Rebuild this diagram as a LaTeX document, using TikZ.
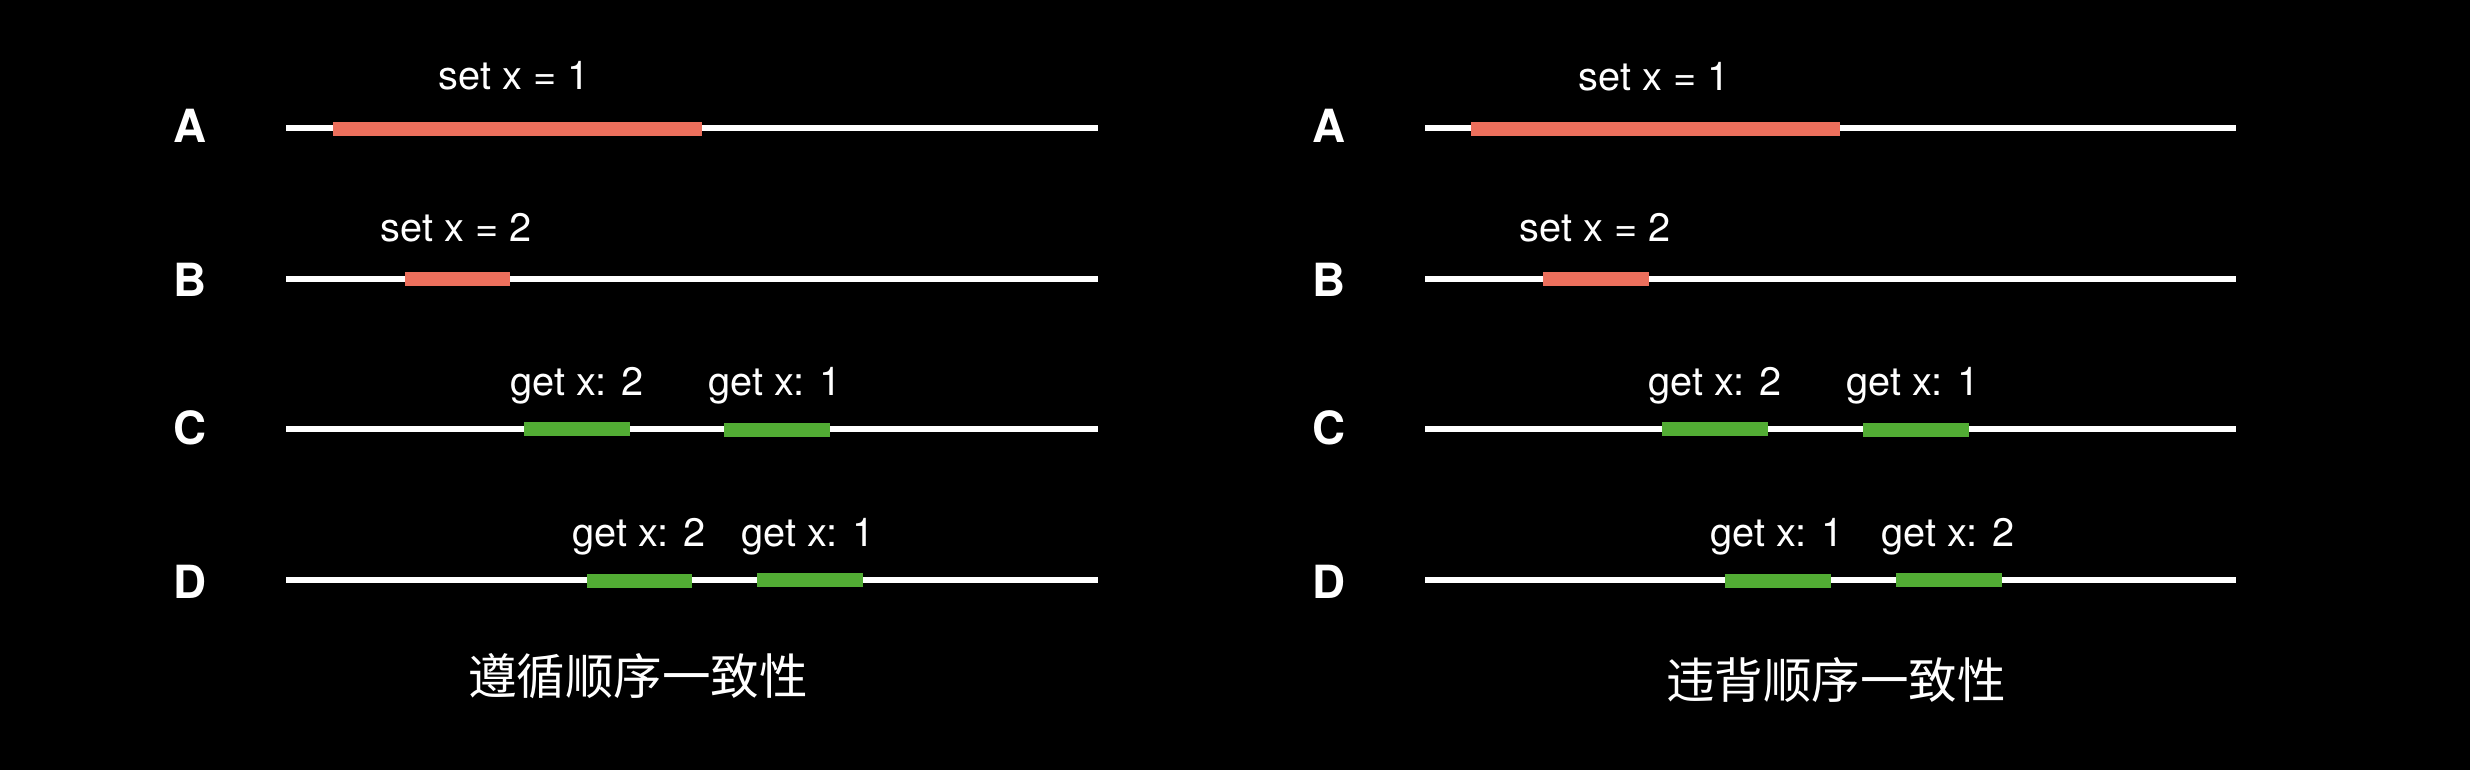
\documentclass[tikz,border=0pt]{standalone}
\usepackage{fontspec}
\setmainfont{TeX Gyre Heros}
\newfontfamily\cjk{Noto Sans CJK SC}
\definecolor{barred}{RGB}{236,111,92}
\definecolor{bargreen}{RGB}{82,172,52}
\begin{document}
\begin{tikzpicture}[x=0.01cm,y=-0.01cm,
  lane/.style={draw=white,line width=1.45pt},
  redbar/.style={fill=barred},
  greenbar/.style={fill=bargreen},
  rowlab/.style={text=white,inner sep=0pt,anchor=center,font=\fontsize{13}{15}\selectfont\bfseries},
  oplab/.style={text=white,inner sep=0pt,anchor=base,font=\fontsize{11.3}{13}\selectfont},
  caption/.style={text=white,inner sep=0pt,anchor=center,font=\cjk\fontsize{13.8}{16}\selectfont}]
\useasboundingbox (0,0) rectangle (2470,769);
\fill[black] (-10,-10) rectangle (2480,779);
% ---------- left panel ----------
\node[rowlab] (LA) at (190,126) {A};
\node[rowlab] (LB) at (190,280) {B};
\node[rowlab] (LC) at (190,428) {C};
\node[rowlab] (LD) at (190,582) {D};
\coordinate (LAs) at (286,128); \coordinate (LAe) at (1098,128);
\coordinate (LBs) at (286,279); \coordinate (LBe) at (1098,279);
\coordinate (LCs) at (286,429); \coordinate (LCe) at (1098,429);
\coordinate (LDs) at (286,580); \coordinate (LDe) at (1098,580);
\draw[lane] (LAs) -- (LAe);
\draw[lane] (LBs) -- (LBe);
\draw[lane] (LCs) -- (LCe);
\draw[lane] (LDs) -- (LDe);
\fill[redbar] (333,122) rectangle (702,136);
\fill[redbar] (405,272) rectangle (510,286);
\fill[greenbar] (524,422) rectangle (630,436);
\fill[greenbar] (724,423) rectangle (830,437);
\fill[greenbar] (587,574) rectangle (692,588);
\fill[greenbar] (757,573) rectangle (863,587);
\node[oplab] (LsetA) at (514,89) {set x = 1};
\node[oplab] (LsetB) at (456,241) {set x = 2};
\node[oplab] (LgetC1) at (577,395) {get x: 2};
\node[oplab] (LgetC2) at (775,395) {get x: 1};
\node[oplab] (LgetD1) at (639,546) {get x: 2};
\node[oplab] (LgetD2) at (808,546) {get x: 1};
\node[caption] (Lcap) at (638,676) {遵循顺序一致性};
% ---------- right panel ----------
\node[rowlab] (RA) at (1329,126) {A};
\node[rowlab] (RB) at (1329,280) {B};
\node[rowlab] (RC) at (1329,428) {C};
\node[rowlab] (RD) at (1329,582) {D};
\coordinate (RAs) at (1425,128); \coordinate (RAe) at (2236,128);
\coordinate (RBs) at (1425,279); \coordinate (RBe) at (2236,279);
\coordinate (RCs) at (1425,429); \coordinate (RCe) at (2236,429);
\coordinate (RDs) at (1425,580); \coordinate (RDe) at (2236,580);
\draw[lane] (RAs) -- (RAe);
\draw[lane] (RBs) -- (RBe);
\draw[lane] (RCs) -- (RCe);
\draw[lane] (RDs) -- (RDe);
\fill[redbar] (1471,122) rectangle (1840,136);
\fill[redbar] (1543,272) rectangle (1649,286);
\fill[greenbar] (1662,422) rectangle (1768,436);
\fill[greenbar] (1863,423) rectangle (1969,437);
\fill[greenbar] (1725,574) rectangle (1831,588);
\fill[greenbar] (1896,573) rectangle (2002,587);
\node[oplab] (RsetA) at (1654,90) {set x = 1};
\node[oplab] (RsetB) at (1595,241) {set x = 2};
\node[oplab] (RgetC1) at (1715,395) {get x: 2};
\node[oplab] (RgetC2) at (1913,395) {get x: 1};
\node[oplab] (RgetD1) at (1777,546) {get x: 1};
\node[oplab] (RgetD2) at (1948,546) {get x: 2};
\node[caption] (Rcap) at (1836,680) {违背顺序一致性};
\end{tikzpicture}
\end{document}
